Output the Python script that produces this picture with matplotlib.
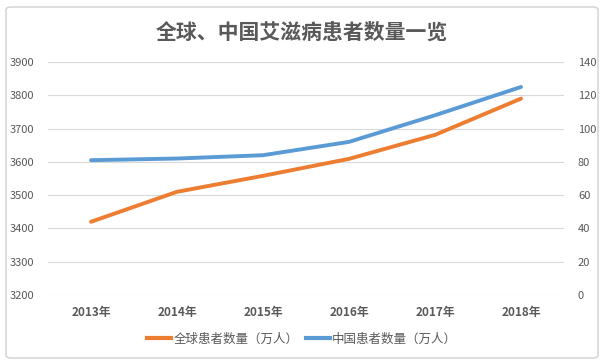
import matplotlib
matplotlib.use("Agg")
import matplotlib.pyplot as plt
from matplotlib.patches import FancyBboxPatch
from matplotlib.lines import Line2D

plt.rcParams['font.family'] = ['Noto Sans CJK SC', 'DejaVu Sans']

years = ['2013年', '2014年', '2015年', '2016年', '2017年', '2018年']
world = [3420, 3510, 3558, 3609, 3681, 3790]   # 全球患者数量（万人）
china = [81, 82, 84, 92, 108, 125]             # 中国患者数量（万人）

TEXT = '#595959'
ORANGE = '#ED7D31'
BLUE = '#5B9BD5'
GRID = '#D9D9D9'

fig = plt.figure(figsize=(6.04, 3.64), dpi=100)

# outer chart border
border = FancyBboxPatch((6 / 604, 6 / 364), 592 / 604, 351 / 364,
                        boxstyle="round,pad=0,rounding_size=0.008",
                        transform=fig.transFigure, facecolor='none',
                        edgecolor='#D0D0D0', linewidth=1, zorder=-1)
fig.patches.append(border)

ax1 = fig.add_axes([48 / 604, 69 / 364, 516 / 604, 233 / 364])
ax1.set_facecolor('none')
x = range(len(years))
ax1.plot(x, world, color=ORANGE, linewidth=2.8, solid_capstyle='round', zorder=3)
ax1.set_ylim(3200, 3900)
ax1.set_yticks(range(3200, 3901, 100))
ax1.set_xlim(-0.5, len(years) - 0.5)
ax1.set_xticks(list(x))
ax1.set_xticklabels(years, fontweight='bold')
ax1.grid(axis='y', color=GRID, linewidth=0.8)
ax1.set_axisbelow(True)

ax2 = ax1.twinx()
ax2.plot(x, china, color=BLUE, linewidth=2.8, solid_capstyle='round', zorder=3)
ax2.set_ylim(0, 140)
ax2.set_yticks(range(0, 141, 20))

for ax in (ax1, ax2):
    for s in ax.spines.values():
        s.set_visible(False)
    ax.tick_params(length=0, colors=TEXT, labelsize=8)
ax1.tick_params(axis='x', labelsize=8.5, pad=8)
ax1.tick_params(axis='y', pad=10)
ax2.tick_params(axis='y', pad=10)

fig.text(0.5, 1 - 32 / 364, '全球、中国艾滋病患者数量一览', ha='center', va='center',
         fontsize=15, fontweight='bold', color=TEXT)

handles = [Line2D([], [], color=ORANGE, linewidth=3),
           Line2D([], [], color=BLUE, linewidth=3)]
fig.legend(handles, ['全球患者数量（万人）', '中国患者数量（万人）'],
           loc='center', bbox_to_anchor=(0.5, 1 - 339 / 364), ncol=2,
           frameon=False, fontsize=9, labelcolor=TEXT,
           handlelength=1.9, handletextpad=0.2, columnspacing=0.6)

fig.savefig('out.png', dpi=100)
